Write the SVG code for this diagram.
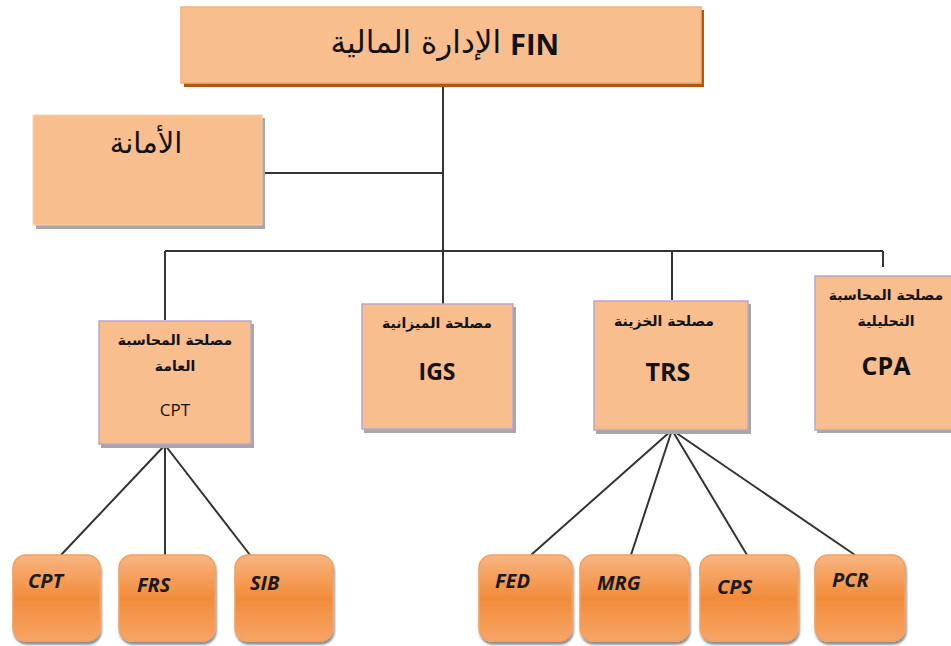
<svg xmlns="http://www.w3.org/2000/svg" width="951" height="646" viewBox="0 0 951 646">
<defs>
<linearGradient id="og" x1="0" y1="0" x2="0" y2="1">
<stop offset="0" stop-color="#F8B582"/>
<stop offset="0.5" stop-color="#F28C3A"/>
<stop offset="1" stop-color="#F7A466"/>
</linearGradient>
<filter id="sh" x="-10%" y="-10%" width="130%" height="130%">
<feGaussianBlur in="SourceAlpha" stdDeviation="1.2"/>
<feOffset dx="1" dy="3" result="b"/>
<feFlood flood-color="#000" flood-opacity="0.45"/>
<feComposite in2="b" operator="in"/>
<feMerge><feMergeNode/><feMergeNode in="SourceGraphic"/></feMerge>
</filter>
</defs>
<style>
.box{fill:#F8BE8E;stroke:#B7A6CC;stroke-width:1.5}
.shadow{fill:#A7A7A7}
.leaf{fill:url(#og);stroke:#F2A060;stroke-width:1.5}
.ar{font-family:"DejaVu Sans","Noto Sans",sans-serif;fill:#111;text-anchor:middle}
.lbl{font-family:"Open Sans","Liberation Sans",sans-serif;fill:#111;text-anchor:middle}
.leaft{font-family:"Open Sans","Liberation Sans",sans-serif;font-weight:bold;font-style:italic;fill:#1a1a1a;font-size:20px}
.con{stroke:#333;stroke-width:2;fill:none}
</style>
<g id="connectors">
<path class="con" d="M443 84 V304 M263 173 H443 M165 251 H883 M165 251 V320 M672 251 V300 M883 251 V267"/>
<path class="con" d="M165 445 L61 555 M165 445 L165 555 M165 445 L250 555"/>
<path class="con" d="M672 430 L531 555 M672 430 L631 555 M672 430 L747 555 M672 430 L855 555"/>
</g>
<g id="fin">
<rect x="184" y="10" width="520" height="77" fill="#B3560F"/>
<rect x="181" y="7" width="520" height="76" fill="#F8BE8E" stroke="#F2B07E" stroke-width="1.5"/>
<text x="510" y="55" font-family="'Open Sans','Liberation Sans',sans-serif" font-weight="bold" font-size="29" fill="#111">FIN</text>
<text x="501" y="53" class="ar" font-size="31" text-anchor="end" style="text-anchor:end">الإدارة المالية</text>
</g>
<g id="amana">
<rect x="36" y="118" width="229" height="111" class="shadow"/>
<rect x="33" y="115" width="229" height="110" fill="#F8BE8E" stroke="#F8D0B0" stroke-width="1"/>
<text x="146" y="153" class="ar" font-size="29">الأمانة</text>
</g>
<g id="cpt-dept">
<rect x="101" y="324" width="153" height="124" class="shadow"/>
<rect x="99" y="321" width="152" height="123" class="box"/>
<text x="175" y="345" class="ar" font-size="14" font-weight="bold">مصلحة المحاسبة</text>
<text x="175" y="371" class="ar" font-size="14" font-weight="bold">العامة</text>
<text x="175" y="416" class="lbl" font-size="17">CPT</text>
</g>
<g id="igs">
<rect x="364" y="307" width="152" height="126" class="shadow"/>
<rect x="362" y="304" width="151" height="125" class="box"/>
<text x="437" y="328" class="ar" font-size="14" font-weight="bold">مصلحة الميزانية</text>
<text x="437" y="380" class="lbl" font-size="23" font-weight="bold">IGS</text>
</g>
<g id="trs">
<rect x="596" y="304" width="155" height="130" class="shadow"/>
<rect x="594" y="301" width="154" height="129" class="box"/>
<text x="664" y="326" class="ar" font-size="14" font-weight="bold">مصلحة الخزينة</text>
<text x="668" y="381" class="lbl" font-size="25" font-weight="bold">TRS</text>
</g>
<g id="cpa">
<rect x="817" y="279" width="136" height="154" class="shadow"/>
<rect x="815" y="276" width="138" height="154" class="box"/>
<text x="886" y="300" class="ar" font-size="14" font-weight="bold">مصلحة المحاسبة</text>
<text x="886" y="326" class="ar" font-size="14" font-weight="bold">التحليلية</text>
<text x="886" y="375" class="lbl" font-size="25" font-weight="bold">CPA</text>
</g>
<g id="leaf-cpt">
<rect x="13" y="555" width="87" height="86" rx="13" class="leaf" filter="url(#sh)"/>
<text x="28" y="588" class="leaft" font-size="20">CPT</text>
</g>
<g id="leaf-frs">
<rect x="119" y="555" width="96" height="86" rx="13" class="leaf" filter="url(#sh)"/>
<text x="137" y="592" class="leaft" font-size="22">FRS</text>
</g>
<g id="leaf-sib">
<rect x="235" y="555" width="98" height="86" rx="13" class="leaf" filter="url(#sh)"/>
<text x="250" y="590" class="leaft" font-size="21">SIB</text>
</g>
<g id="leaf-fed">
<rect x="479" y="555" width="93" height="86" rx="13" class="leaf" filter="url(#sh)"/>
<text x="495" y="588" class="leaft" font-size="20">FED</text>
</g>
<g id="leaf-mrg">
<rect x="580" y="555" width="109" height="86" rx="13" class="leaf" filter="url(#sh)"/>
<text x="597" y="590" class="leaft" font-size="21">MRG</text>
</g>
<g id="leaf-cps">
<rect x="700" y="555" width="98" height="86" rx="13" class="leaf" filter="url(#sh)"/>
<text x="717" y="594" class="leaft" font-size="24">CPS</text>
</g>
<g id="leaf-pcr">
<rect x="815" y="555" width="90" height="86" rx="13" class="leaf" filter="url(#sh)"/>
<text x="832" y="587" class="leaft" font-size="18">PCR</text>
</g>
</svg>
